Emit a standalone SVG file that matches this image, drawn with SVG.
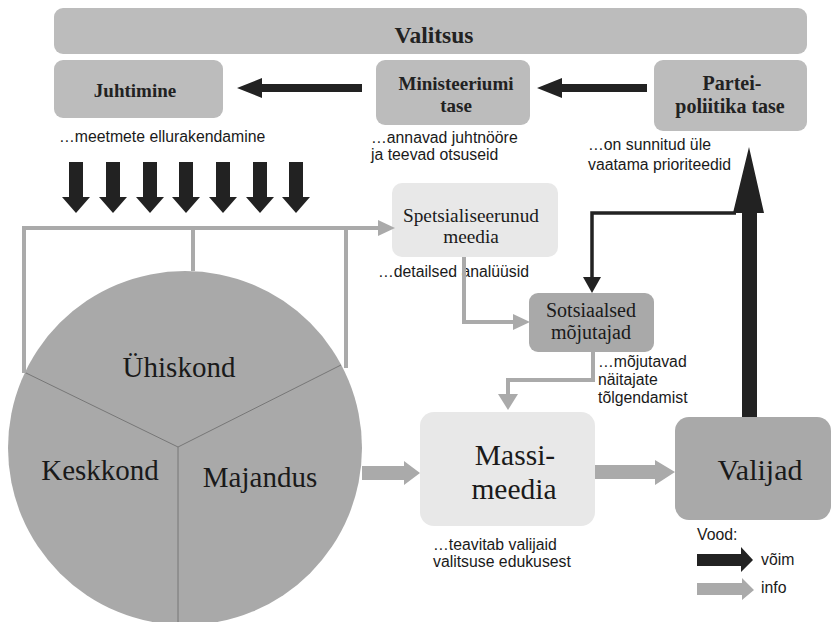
<svg xmlns="http://www.w3.org/2000/svg" width="831" height="622" viewBox="0 0 831 622">
<style>
.top{fill:#bcbcbc}
.dark{fill:#a9a9a9}
.light{fill:#e8e8e8}
.hb{font-family:"Liberation Serif","Times New Roman",serif;font-weight:bold;fill:#222;text-anchor:middle}
.sr{font-family:"Liberation Serif","Times New Roman",serif;fill:#1a1a1a;text-anchor:middle}
.cap{font-family:"Liberation Sans",Arial,sans-serif;font-size:15.8px;fill:#1a1a1a}
.gl{fill:none;stroke:#aaaaaa;stroke-width:4}
.bl{fill:none;stroke:#222;stroke-width:3.5}
.ba{fill:#222}
.ga{fill:#aaaaaa}
</style>
<rect width="831" height="622" fill="#fff"/>

<g id="valitsus"><rect class="top" x="54" y="8" width="753" height="46" rx="9"/><text class="hb" x="434" y="43" font-size="23.5">Valitsus</text></g>
<g id="juhtimine"><rect class="top" x="54" y="60" width="169" height="58" rx="9"/><text class="hb" x="135" y="97" font-size="19">Juhtimine</text></g>
<g id="ministeerium"><rect class="top" x="376" y="60" width="154" height="65" rx="9"/><text class="hb" x="456" y="90" font-size="19">Ministeeriumi</text><text class="hb" x="456" y="112" font-size="19">tase</text></g>
<g id="partei"><rect class="top" x="654" y="60" width="153" height="71" rx="9"/><text class="hb" x="732" y="90" font-size="20">Partei-</text><text class="hb" x="730" y="113" font-size="20">poliitika tase</text></g>

<g id="captions" class="cap">
<text x="59" y="142">…meetmete ellurakendamine</text>
<text x="371" y="143">…annavad juhtnööre</text>
<text x="371" y="160">ja teevad otsuseid</text>
<text x="588" y="150">…on sunnitud üle</text>
<text x="588" y="170">vaatama prioriteedid</text>
<text x="378" y="277">…detailsed  analüüsid</text>
<text x="598" y="367">…mõjutavad</text>
<text x="598" y="385">näitajate</text>
<text x="598" y="403">tõlgendamist</text>
<text x="433" y="550">…teavitab valijaid</text>
<text x="433" y="567">valitsuse edukusest</text>
</g>

<g id="ring">
<circle cx="185" cy="448" r="177" fill="#a9a9a9"/>
<path d="M24 372 L178 447 L341 365 M178 447 L178 622" stroke="#777" stroke-width="1" fill="none"/>
<text class="sr" x="179" y="377" font-size="29">Ühiskond</text>
<text class="sr" x="100" y="480" font-size="29">Keskkond</text>
<text class="sr" x="260" y="487" font-size="29">Majandus</text>
</g>

<g id="spets"><rect class="light" x="392" y="183" width="166" height="74" rx="10"/><text class="sr" x="471" y="222" font-size="19.3">Spetsialiseerunud</text><text class="sr" x="471" y="243" font-size="19.3">meedia</text></g>
<g id="sotsiaalsed"><rect class="dark" x="529" y="293" width="125" height="59" rx="9"/><text class="sr" x="591" y="317" font-size="20">Sotsiaalsed</text><text class="sr" x="591" y="339" font-size="20">mõjutajad</text></g>
<g id="massimeedia"><rect class="light" x="420" y="412" width="175" height="114" rx="14"/><text class="sr" x="515" y="465" font-size="29.5">Massi-</text><text class="sr" x="514" y="499" font-size="29.5">meedia</text></g>
<g id="valijad"><rect class="dark" x="675" y="417" width="156" height="103" rx="14"/><text class="sr" x="760" y="480" font-size="30">Valijad</text></g>

<g id="connectors">
<path class="ba" d="M362 84 L262 84 L262 78 L237 88 L262 98 L262 92 L362 92 Z"/>
<path class="ba" d="M647 84 L562 84 L562 78 L537 88 L562 98 L562 92 L647 92 Z"/>
<g class="ba">
<path d="M69 162 H83 V197 H90 L76 213 L62 197 H69 Z"/>
<path d="M106 162 H120 V197 H127 L113 213 L99 197 H106 Z"/>
<path d="M143 162 H157 V197 H164 L150 213 L136 197 H143 Z"/>
<path d="M179 162 H193 V197 H200 L186 213 L172 197 H179 Z"/>
<path d="M216 162 H230 V197 H237 L223 213 L209 197 H216 Z"/>
<path d="M253 162 H267 V197 H274 L260 213 L246 197 H253 Z"/>
<path d="M289 162 H303 V197 H310 L296 213 L282 197 H289 Z"/>
</g>
<path class="gl" d="M24 373 V228 H380 M193 228 V271 M346 228 V368"/>
<path class="ga" d="M378 220 L395 228 L378 236 Z"/>
<path class="gl" d="M464 257 V322 H515"/>
<path class="ga" d="M513 314 L530 322 L513 330 Z"/>
<path class="gl" d="M593 352 V380 H508 V396"/>
<path class="ga" d="M498 394 L508 410 L518 394 Z"/>
<path class="ga" d="M362 466 H404 V461 L420 473 L404 485 V480 H362 Z"/>
<path class="ga" d="M595 465 H655 V460 L675 472 L655 485 V479 H595 Z"/>
<path class="ba" d="M742 417 V213 H733 L749 147 L764 213 H757 V417 Z"/>
<path class="bl" d="M736 213 H592 V280"/>
<path class="ba" d="M583 277 L592 293 L601 277 Z"/>
</g>

<g id="legend">
<text class="cap" x="697" y="540">Vood:</text>
<path class="ba" d="M697 554 H741 V547 L753 560 L741 572 V566 H697 Z"/>
<text class="cap" x="761" y="565">võim</text>
<path class="ga" d="M697 583 H742 V578 L754 590 L742 600 V595 H697 Z"/>
<text class="cap" x="761" y="593">info</text>
</g>
</svg>
